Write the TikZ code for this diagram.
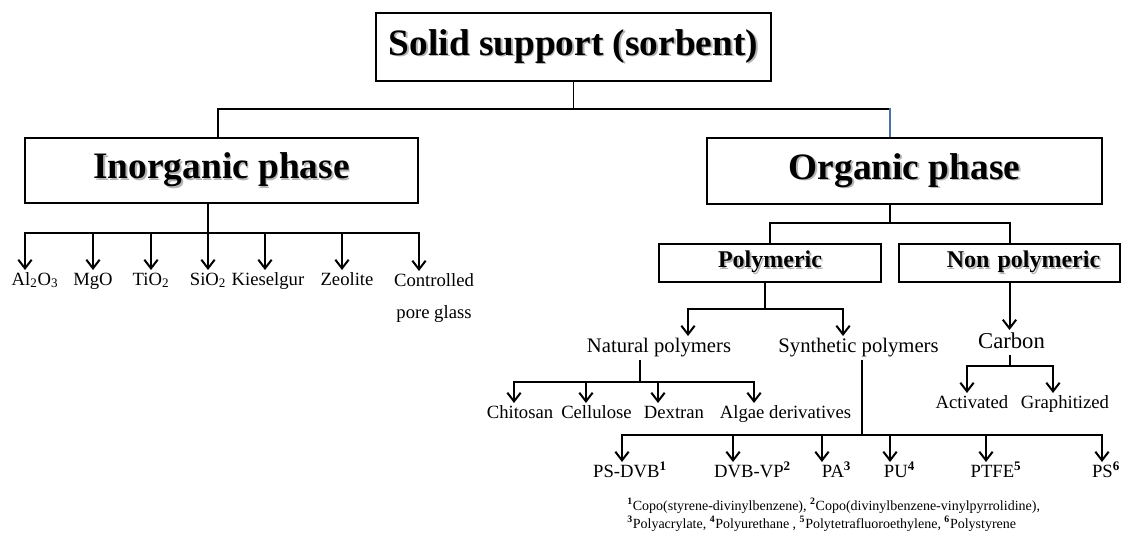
\documentclass[tikz,border=0pt]{standalone}
\usepackage{fontspec}
\setmainfont{Liberation Serif}
\usetikzlibrary{arrows.meta,positioning}
\definecolor{cblue}{HTML}{4A74A8}
\definecolor{cshade}{HTML}{B4B4B4}
\newcommand{\shadetxt}[1]{\leavevmode\rlap{\kern1.2pt\raisebox{-1.2pt}{\textcolor{cshade}{#1}}}#1}

\begin{document}
\begin{tikzpicture}[x=0.75pt, y=-0.75pt,
  topbox/.style={draw, line width=1.4pt, inner sep=0pt,
                 font=\fontsize{28}{32}\selectfont\bfseries},
  subbox/.style={draw, line width=1.4pt, inner sep=0pt, minimum height=28.5pt,
                 font=\fontsize{18}{21}\selectfont\bfseries},
  leaflbl/.style={anchor=north, inner xsep=0pt, inner ysep=1.5pt,
                  text height=9.6pt, text depth=3.3pt,
                  font=\fontsize{14}{16.5}\selectfont},
  midlbl/.style={anchor=north, inner xsep=0pt, inner ysep=1.5pt,
                 text height=10.7pt, text depth=3.7pt,
                 font=\fontsize{15.5}{18}\selectfont},
  linkline/.style={line width=1pt},
  branchline/.style={line width=1.5pt},
  arrline/.style={line width=1.5pt, -{Straight Barb[length=6.5pt,width=10pt]}}
]
\useasboundingbox (0,0) rectangle (1121,536);

% boxes
\node[topbox, minimum width=296pt, minimum height=51pt] (root) at (573.5,47)
  {\shadetxt{Solid support (sorbent)}};
\node[topbox, minimum width=295pt, minimum height=49pt] (inorg) at (221.5,170.5)
  {\shadetxt{Inorganic phase}};
\node[topbox, minimum width=296pt, minimum height=49.5pt] (org) at (904.5,171)
  {\shadetxt{Organic phase}};
\node[subbox, minimum width=166.5pt] (poly) at (770,263) {\shadetxt{Polymeric}};
\node[subbox, minimum width=166pt, inner xsep=15pt, text width=136pt, align=right]
  (nonpoly) at (1009.5,263) {\shadetxt{Non polymeric}};

% inorganic phase
\node[leaflbl] (al)  at (35,270)  {Al\textsubscript{2}O\textsubscript{3}};
\node[leaflbl] (mgo) at (93,270)  {MgO};
\node[leaflbl] (tio) at (151,270) {TiO\textsubscript{2}};
\node[leaflbl] (sio) at (208,270) {SiO\textsubscript{2}};
\node[leaflbl] (kie) at (268,270) {Kieselgur};
\node[leaflbl] (zeo) at (347,270) {Zeolite};
\node[anchor=north, inner xsep=0pt, inner ysep=1.5pt, align=center,
      font=\fontsize{14}{24}\selectfont] (cpg) at (434,271) {Controlled\\pore glass};

% organic phase
\node[midlbl] (nat) at (659,336) {Natural polymers};
\node[midlbl] (syn) at (858.5,336) {Synthetic polymers};
\node[leaflbl, text height=11.8pt, font=\fontsize{17}{20}\selectfont]
  (carbon) at (1011.5,330) {Carbon};

\node[leaflbl] (chi) at (520,403)   {Chitosan};
\node[leaflbl] (cel) at (596.5,403) {Cellulose};
\node[leaflbl] (dex) at (674,403)   {Dextran};
\node[leaflbl] (alg) at (785.5,403) {Algae derivatives};

\node[leaflbl] (psdvb) at (630,462)   {PS-DVB\textsuperscript{\textbf{1}}};
\node[leaflbl] (dvbvp) at (752.5,462) {DVB-VP\textsuperscript{\textbf{2}}};
\node[leaflbl] (pa)    at (836.5,462) {PA\textsuperscript{\textbf{3}}};
\node[leaflbl] (pu)    at (899.5,462) {PU\textsuperscript{\textbf{4}}};
\node[leaflbl] (ptfe)  at (996,462)   {PTFE\textsuperscript{\textbf{5}}};
\node[leaflbl] (ps)    at (1106,462)  {PS\textsuperscript{\textbf{6}}};

\node[leaflbl] (act) at (972,393)  {Activated};
\node[leaflbl] (gra) at (1065,393) {Graphitized};

\node[anchor=north west, inner sep=0pt, align=left,
      font=\fontsize{10.5}{13.5}\selectfont] (notes) at (627,498)
  {\textsuperscript{\textbf{1}}Copo(styrene-divinylbenzene), \textsuperscript{\textbf{2}}Copo(divinylbenzene-vinylpyrrolidine),\\
   \textsuperscript{\textbf{3}}Polyacrylate, \textsuperscript{\textbf{4}}Polyurethane , \textsuperscript{\textbf{5}}Polytetrafluoroethylene, \textsuperscript{\textbf{6}}Polystyrene};

% top level
\coordinate (rootbar) at (573.5,109);
\draw[linkline] (root.south) -- (rootbar) -| ([xshift=-2.6pt]inorg.north);
\draw[linkline] (rootbar) -| ([xshift=-10.9pt]org.north);
\draw[linkline, cblue] ([xshift=-10.9pt]org.north) -- ++(0,-29);

\coordinate (inbar) at (208,233);
\draw[branchline] (inorg.south -| inbar) -- (inbar);
\draw[arrline] (inbar) -| ([xshift=-7.5pt]al.north);
\draw[arrline] (inbar) -| (mgo.north);
\draw[arrline] (inbar) -| (tio.north);
\draw[arrline] (inbar) -| (sio.north);
\draw[arrline] (inbar) -| ([xshift=-2.25pt]kie.north);
\draw[arrline] (inbar) -| ([xshift=-3.75pt]zeo.north);
\draw[arrline] (inbar) -| ([xshift=-11.25pt]cpg.north);

\coordinate (orgbar) at (890,223);
\draw[branchline] (org.south -| orgbar) -- (orgbar) -| (poly.north);
\draw[branchline] (orgbar) -| (nonpoly.north);

% polymeric
\coordinate (polybar) at (765,309);
\draw[branchline] (poly.south -| polybar) -- (polybar);
\draw[arrline] (polybar) -| ([xshift=21.75pt]nat.north);
\draw[arrline] (polybar) -| ([xshift=-11.6pt]syn.north);

\coordinate (natbar) at (640,382);
\draw[branchline] (nat.south -| natbar) -- (natbar);
\draw[arrline] (natbar) -| ([xshift=-4.5pt]chi.north);
\draw[arrline] (natbar) -| ([xshift=-7.9pt]cel.north);
\draw[arrline] (natbar) -| ([xshift=-12pt]dex.north);
\draw[arrline] (natbar) -| ([xshift=-23.6pt]alg.north);

\coordinate (synbar) at (862,435);
\draw[branchline] (syn.south -| synbar) -- (synbar);
\draw[arrline] (synbar) -| ([xshift=-6pt]psdvb.north);
\draw[arrline] (synbar) -| ([xshift=-14.6pt]dvbvp.north);
\draw[arrline] (synbar) -| ([xshift=-10.9pt]pa.north);
\draw[arrline] (synbar) -| ([xshift=-7.1pt]pu.north);
\draw[arrline] (synbar) -| ([xshift=-7.5pt]ptfe.north);
\draw[arrline] (synbar) -| ([xshift=-3pt]ps.north);

% non polymeric
\draw[arrline] (nonpoly.south) -- (carbon.north -| nonpoly.south);
\coordinate (carbar) at (1010,366);
\draw[branchline] (carbon.south -| carbar) -- (carbar);
\draw[arrline] (carbar) -| ([xshift=-3.75pt]act.north);
\draw[arrline] (carbar) -| ([xshift=-9pt]gra.north);
\end{tikzpicture}
\end{document}
